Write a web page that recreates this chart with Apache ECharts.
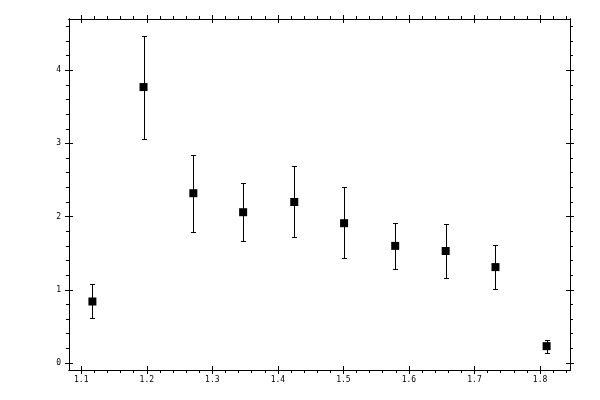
<!DOCTYPE html>
<html lang="en">
<head>
    <meta charset="UTF-8">
    <title>Error bars</title>
    <script src="https://cdn.jsdelivr.net/npm/echarts@6.0.0/dist/echarts.min.js"></script>
    <style>
        html, body { margin: 0; padding: 0; background: #fff; }
        #chart { width: 600px; height: 400px; }
    </style>
</head>
<body>
<div id="chart"></div>
<script>
    // values
    var xVals = [1.117, 1.195, 1.271, 1.347, 1.425, 1.501, 1.579, 1.656, 1.732, 1.810];
    var yVals = [0.84, 3.77, 2.32, 2.06, 2.20, 1.91, 1.60, 1.53, 1.31, 0.23];
    var yHigh = [1.08, 4.47, 2.84, 2.46, 2.69, 2.40, 1.91, 1.90, 1.61, 0.31];
    var yLow  = [0.61, 3.06, 1.79, 1.67, 1.72, 1.43, 1.28, 1.16, 1.01, 0.13];

    var xMajor = [1.1, 1.2, 1.3, 1.4, 1.5, 1.6, 1.7, 1.8];
    var yMajor = [0, 1, 2, 3, 4];
    var xRange = [1.0813, 1.8457];
    var yRange = [-0.096, 4.70];

    // minor ticks: 5 steps per major interval
    function minors(major, lo, hi) {
        var step = (major[1] - major[0]) / 5;
        var out = [];
        var start = major[0] - 5 * step;
        for (var i = 0; start + i * step <= hi + 1e-9; i++) {
            var v = Math.round((start + i * step) * 1000) / 1000;
            if (v > lo && v < hi && major.indexOf(v) < 0) out.push(v);
        }
        return out;
    }
    var xMinor = minors(xMajor, xRange[0], xRange[1]);
    var yMinor = minors(yMajor, yRange[0], yRange[1]);

    var font = {fontFamily: 'DejaVu Sans Mono', fontSize: 8, color: '#000'};
    var line = {show: true, onZero: false, lineStyle: {color: '#000', width: 1}};
    var box = {left: 69, right: 30, top: 19, bottom: 30, containLabel: false};

    function xAxis(grid, pos, ticks, len, inside, labels) {
        return {
            type: 'value', gridIndex: grid, position: pos, min: xRange[0], max: xRange[1],
            axisLine: line, splitLine: {show: false},
            axisTick: {show: true, inside: inside, length: len, customValues: ticks,
                lineStyle: {color: '#000', width: 1}},
            axisLabel: labels ? Object.assign({show: true, margin: 6, customValues: xMajor,
                formatter: function (v) { return v.toFixed(1); }}, font) : {show: false}
        };
    }
    function yAxis(grid, pos, ticks, len, inside, labels) {
        return {
            type: 'value', gridIndex: grid, position: pos, min: yRange[0], max: yRange[1],
            axisLine: line, splitLine: {show: false},
            axisTick: {show: true, inside: inside, length: len, customValues: ticks,
                lineStyle: {color: '#000', width: 1}},
            axisLabel: labels ? Object.assign({show: true, margin: 8, customValues: yMajor,
                formatter: function (v) { return String(v); }}, font) : {show: false}
        };
    }

    var chart = echarts.init(document.getElementById('chart'), null, {renderer: 'canvas'});
    var option = {
        animation: false,
        backgroundColor: '#fff',
        // three grids on the same box: major ticks out, major ticks in, minor ticks out
        grid: [box, box, box],
        xAxis: [
            xAxis(0, 'bottom', xMajor, 4, false, true),
            xAxis(0, 'top', xMajor, 4, false, false),
            xAxis(1, 'bottom', xMajor, 4, true, false),
            xAxis(1, 'top', xMajor, 4, true, false),
            xAxis(2, 'bottom', xMinor, 3, false, false),
            xAxis(2, 'top', xMinor, 3, false, false)
        ],
        yAxis: [
            yAxis(0, 'left', yMajor, 4, false, true),
            yAxis(0, 'right', yMajor, 4, false, false),
            yAxis(1, 'left', yMajor, 4, true, false),
            yAxis(1, 'right', yMajor, 4, true, false),
            yAxis(2, 'left', yMinor, 3, false, false),
            yAxis(2, 'right', yMinor, 3, false, false)
        ],
        series: [
            {
                type: 'custom',
                xAxisIndex: 0, yAxisIndex: 0,
                data: xVals.map(function (x, i) { return [x, yLow[i], yHigh[i]]; }),
                renderItem: function (params, api) {
                    var top = api.coord([api.value(0), api.value(2)]);
                    var bot = api.coord([api.value(0), api.value(1)]);
                    var cx = Math.round(top[0]) + 0.5;
                    var t = Math.round(top[1]) + 0.5, b = Math.round(bot[1]) + 0.5;
                    var w = 2.5;
                    var st = {stroke: '#000', lineWidth: 1};
                    return {
                        type: 'group',
                        children: [
                            {type: 'line', shape: {x1: cx, y1: t, x2: cx, y2: b}, style: st},
                            {type: 'line', shape: {x1: cx - w, y1: t, x2: cx + w, y2: t}, style: st},
                            {type: 'line', shape: {x1: cx - w, y1: b, x2: cx + w, y2: b}, style: st}
                        ]
                    };
                },
                z: 2
            },
            {
                type: 'scatter',
                xAxisIndex: 0, yAxisIndex: 0,
                symbol: 'rect',
                symbolSize: 8,
                itemStyle: {color: '#000', opacity: 1},
                emphasis: {disabled: true},
                data: xVals.map(function (x, i) { return [x, yVals[i]]; }),
                z: 3
            }
        ]
    };
    chart.setOption(option);
</script>
</body>
</html>
